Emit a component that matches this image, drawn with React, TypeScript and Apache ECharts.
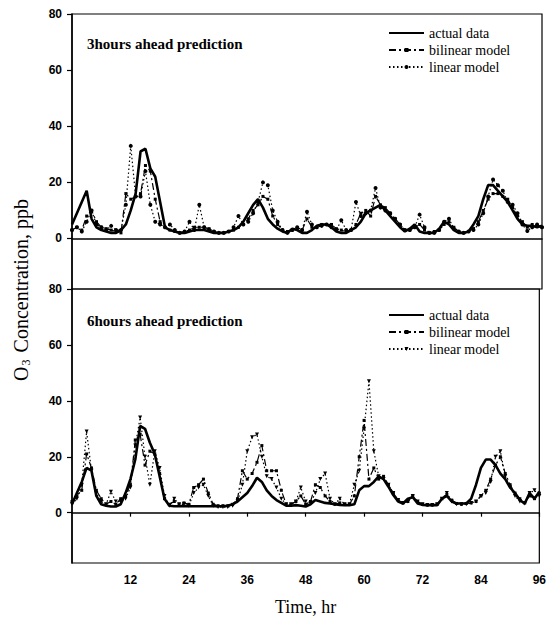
import React, { useEffect, useRef } from "react";
import * as echarts from "echarts";

const HOURS = Array.from({ length: 97 }, (_, i) => i);
const X_TICKS = [12, 24, 36, 48, 60, 72, 84, 96];
const Y_TICKS = [0, 20, 40, 60, 80];
const SERIES_NAMES = ["actual data", "bilinear model", "linear model"];
const PANEL_TITLES = ["3hours ahead prediction", "6hours ahead prediction"];

// 3 hours ahead
const actual3 = [5, 9, 13, 17, 7, 4, 3, 2.5, 2, 2, 3, 5, 10, 16, 31, 32, 25, 22, 13, 4, 3, 2.5, 2, 2, 2.5, 3, 3, 3, 2.5, 2, 2, 2, 2.5, 3, 4, 6, 9, 12, 14, 11, 7, 5, 3.5, 2.5, 2, 3.5, 3, 2, 2, 3, 4.5, 5, 5, 4, 2.5, 2, 2, 3, 4, 6, 9, 10, 11, 12, 10, 8, 6, 4, 2.5, 3.5, 5, 2.5, 2, 2, 2, 3.5, 6, 5, 3, 2, 2, 2.5, 5, 8, 14, 19, 19, 17, 15, 13, 10, 7, 5, 4.5, 4.5, 4, 4.5];
const bilinear3 = [3, 4, 3, 8, 10, 6, 4, 3.5, 3, 2.5, 2, 16, 14, 15, 16, 26, 24, 14, 6, 4, 3, 2.5, 2, 2.5, 3, 4, 4, 4, 3.5, 2.5, 2, 2, 2.5, 3, 4, 5, 7, 10, 12, 15, 14, 8, 5, 3, 2.5, 3, 3.5, 3, 7, 4, 4, 5, 5, 5, 3.5, 3, 2.5, 3, 5, 9, 10, 8, 15, 12, 11, 9, 7, 5, 3, 3, 4, 5, 3, 2, 2.5, 3, 5, 6, 4, 2.5, 2, 2.5, 3.5, 6, 10, 14, 16, 16, 15, 14, 11, 8, 6, 4, 5, 4.5, 4];
const linear3 = [3, 4, 2.5, 6, 10, 5, 4, 3, 4.5, 3, 3, 12, 33, 15, 15, 24, 12, 6, 5, 4, 5, 3, 2, 2.5, 6, 3, 12, 4, 3, 2.5, 2, 2, 2.5, 4, 8, 5, 6, 9, 13, 20, 19, 10, 6, 3, 2, 3, 4, 3, 9.5, 5, 4, 4.5, 5, 4, 3, 6.5, 3, 3, 13, 8, 9, 10, 18, 11, 10, 9, 7, 5, 3, 3, 4, 8.5, 4, 2, 2, 3, 6, 7, 3.5, 2.5, 2, 2.5, 3, 5, 9, 15, 21, 19, 17, 13, 12, 9, 5, 2.7, 4, 5, 4];

// 6 hours ahead
const actual6 = [3, 7, 11, 16, 15, 6, 3, 2.5, 2.2, 2.2, 3, 7, 12, 19, 31, 30, 25, 21, 13, 5, 2.5, 2.3, 2.3, 2.3, 2.3, 2.3, 2.3, 2.3, 2.3, 2.3, 2.3, 2.3, 2.5, 3, 4, 5.5, 7, 9.5, 12.5, 11, 8, 6, 4.5, 3.5, 2.5, 2.5, 2.7, 2.5, 2.2, 3, 4.5, 4, 3.5, 3.3, 3, 2.8, 2.7, 2.7, 3, 8, 9.5, 9.5, 11, 13, 12, 9.3, 6.3, 4, 3.3, 5, 5.5, 3.3, 2.8, 2.7, 2.7, 2.7, 5, 6, 4, 3.3, 3.3, 3.3, 5, 10, 16, 19, 19, 17, 14, 12, 9, 7, 4.5, 3.3, 7, 5, 7.5];
const bilinear6 = [4, 6, 8, 21, 16, 8, 5, 3, 4, 3, 5, 6, 10, 26, 28, 17, 22, 21, 14, 5, 3, 4, 3, 3.5, 3, 9, 10, 12, 7, 3, 2.5, 2.5, 2.5, 3, 5, 15, 12, 14, 18, 24, 15, 15, 15, 8, 3, 3, 4, 6, 3, 4, 10, 9, 6, 4, 3, 3.5, 3, 3, 6, 20, 33, 12, 16, 12, 13, 10, 7, 4.5, 3.5, 4, 6, 4, 3, 2.7, 2.7, 3, 5, 6.5, 4.5, 3.3, 3, 3.3, 3.5, 4, 6, 8, 12, 17, 20, 14, 10, 7, 5, 3.5, 6, 5, 7];
const linear6 = [3, 5, 10, 29, 15, 7, 4, 3, 7.5, 4, 4, 5, 9, 24, 34, 20, 10, 22, 16, 6, 2.5, 5, 3, 3, 2.5, 7, 9, 10, 6, 2.5, 2, 2, 2, 2.5, 4, 10, 22, 27, 28, 20, 13, 12, 9, 5, 3, 3, 4, 9, 4, 3.5, 7, 12, 14, 5, 3, 5, 3, 3, 10, 15, 30, 47, 22, 13, 12, 10, 7, 4.5, 3.5, 4, 6, 4, 3, 2.7, 2.7, 3, 5, 7, 4, 3, 3, 3, 3.5, 4, 6, 7, 11, 20, 22, 13, 9, 6, 4, 3.3, 7, 8, 6];

const SERIF = "Liberation Serif";
const SANS = "Liberation Sans";

function pairs(vals: number[]) {
  return HOURS.map((h, i) => [h, vals[i]]);
}

function panelSeries(idx: number, suffix: string, a: number[], b: number[], l: number[], linSymbol: string, linRotate: number) {
  return [
    {
      name: SERIES_NAMES[0] + suffix,
      type: "line",
      xAxisIndex: idx,
      yAxisIndex: idx,
      data: pairs(a),
      showSymbol: false,
      symbol: "none",
      lineStyle: { color: "#000", width: 2.6 },
      itemStyle: { color: "#000" },
      z: 3,
    },
    {
      name: SERIES_NAMES[1] + suffix,
      type: "line",
      xAxisIndex: idx,
      yAxisIndex: idx,
      data: pairs(b),
      symbol: "rect",
      symbolSize: 3,
      lineStyle: { color: "#000", width: 1.2, type: [7, 3, 2, 3] },
      itemStyle: { color: "#000" },
      z: 2,
    },
    {
      name: SERIES_NAMES[2] + suffix,
      type: "line",
      xAxisIndex: idx,
      yAxisIndex: idx,
      data: pairs(l),
      symbol: linSymbol,
      symbolRotate: linRotate,
      symbolSize: 4,
      lineStyle: { color: "#000", width: 1.2, type: [1.5, 2.5] },
      itemStyle: { color: "#000" },
      z: 2,
    },
  ];
}

function yAxisCfg(idx: number) {
  return {
    type: "value",
    gridIndex: idx,
    min: -18,
    max: 80,
    splitLine: { show: false },
    axisLine: { show: true, lineStyle: { color: "#000", width: 1.5 } },
    axisTick: { show: true, inside: false, length: 5, customValues: Y_TICKS, lineStyle: { color: "#000", width: 1.2 } },
    axisLabel: { customValues: Y_TICKS, margin: 10, color: "#000", fontFamily: SANS, fontSize: 12, fontWeight: "bold" },
  };
}

function legendCfg(suffix: string, top: number) {
  return {
    data: SERIES_NAMES.map((n, i) =>
      i === 0 ? { name: n + suffix, itemStyle: { opacity: 0 } } : { name: n + suffix }
    ),
    formatter: (name: string) => name.split("|")[0],
    orient: "vertical",
    left: 383,
    top,
    itemWidth: 35,
    itemHeight: 5,
    itemGap: 3,
    selectedMode: false,
    textStyle: { fontFamily: SERIF, fontSize: 14, color: "#000" },
  };
}

export default function App() {
  const ref = useRef<HTMLDivElement>(null);
  useEffect(() => {
    document.body.style.margin = "0";
    if (!ref.current) return;
    const chart = echarts.init(ref.current, null, { renderer: "svg" });
    const titleStyle = { fontFamily: SERIF, fontSize: 15, fontWeight: "bold", color: "#000" };
    chart.setOption({
      animation: false,
      backgroundColor: "#fff",
      textStyle: { fontFamily: SERIF },
      title: [
        { text: PANEL_TITLES[0], left: 82, top: 31, textStyle: titleStyle },
        { text: PANEL_TITLES[1], left: 82, top: 308, textStyle: titleStyle },
      ],
      legend: [legendCfg("", 21), legendCfg("|6h", 303)],
      grid: [
        { left: 72, right: 7, top: 14, height: 275, show: true, borderColor: "#000", borderWidth: 1.2, backgroundColor: "transparent" },
        { left: 72, right: 7, top: 289, height: 274, show: true, borderColor: "#000", borderWidth: 1.2, backgroundColor: "transparent" },
      ],
      xAxis: [
        {
          type: "value",
          gridIndex: 0,
          min: 0,
          max: 96,
          interval: 12,
          splitLine: { show: false },
          axisLine: { show: true, lineStyle: { color: "#000", width: 1.5 } },
          axisTick: { show: false },
          axisLabel: { show: false },
        },
        {
          type: "value",
          gridIndex: 1,
          min: 0,
          max: 96,
          interval: 12,
          splitLine: { show: false },
          axisLine: { show: true, lineStyle: { color: "#000", width: 1.5 } },
          axisTick: { show: true, length: 4, customValues: X_TICKS, lineStyle: { color: "#000", width: 1.2 } },
          axisLabel: { customValues: X_TICKS, margin: 11, color: "#000", fontFamily: SANS, fontSize: 12, fontWeight: "bold" },
          name: "Time, hr",
          nameLocation: "middle",
          nameGap: 35,
          nameTextStyle: { fontFamily: SERIF, fontSize: 18, color: "#000" },
        },
      ],
      yAxis: [yAxisCfg(0), yAxisCfg(1)],
      graphic: [
        {
          type: "text",
          x: 21,
          y: 290,
          rotation: Math.PI / 2,
          style: {
            text: "O{s|3} Concentration, ppb",
            fontFamily: SERIF,
            fontSize: 20,
            fill: "#000",
            align: "center",
            verticalAlign: "middle",
            rich: {
              s: { fontFamily: SERIF, fontSize: 12, fill: "#000", padding: [10, 2, 0, 1] },
            },
          },
        },
      ],
      series: [
        ...panelSeries(0, "", actual3, bilinear3, linear3, "circle", 0),
        ...panelSeries(1, "|6h", actual6, bilinear6, linear6, "triangle", 180),
      ],
    });
    return () => chart.dispose();
  }, []);
  return <div ref={ref} style={{ width: 549, height: 620 }} />;
}
